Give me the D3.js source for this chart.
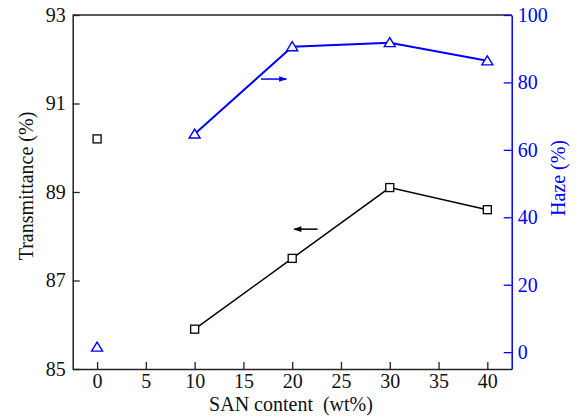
<!DOCTYPE html>
<html>
<head>
<meta charset="utf-8">
<script src="https://cdn.jsdelivr.net/npm/d3@7"></script>
<style>
  body { margin: 0; background: #fff; }
  svg text { font-family: "Liberation Serif", "DejaVu Serif", serif; }
</style>
</head>
<body>
<script>
// data
var sanContent = [0, 10, 20, 30, 40];
var transmittance = [90.2, 85.9, 87.5, 89.1, 88.6];
var haze = [1.5, 64.7, 90.6, 91.8, 86.4];
var xTicks = [0, 5, 10, 15, 20, 25, 30, 35, 40];
var tTicks = [85, 87, 89, 91, 93];
var hTicks = [0, 20, 40, 60, 80, 100];
// arrows that say which axis belongs to which curve: [x0, x1, y]
var hazeArrow = [16.8, 19.4, 81];
var transArrow = [22.6, 20.2, 88.16];

var w = 578, h = 420;
var pL = 72.7, pR = 511.7, pT = 15, pB = 369;
var blue = "#0000ff";
var fs = 20;
var serif = "'Liberation Serif', serif";

var svg = d3.select("body").append("svg")
    .attr("width", w)
    .attr("height", h);

var defs = svg.append("defs");
function marker(id, col) {
    defs.append("marker")
        .attr("id", id)
        .attr("viewBox", "0 0 10 10")
        .attr("refX", 9).attr("refY", 5)
        .attr("markerWidth", 10).attr("markerHeight", 8)
        .attr("markerUnits", "userSpaceOnUse")
        .attr("orient", "auto")
        .append("path")
        .attr("d", "M0,1.5L10,5L0,8.5Z")
        .attr("fill", col);
}
marker("ab", blue);
marker("ak", "#000");

var x = d3.scaleLinear().domain([-2.5, 42.5]).range([pL, pR]);
var yT = d3.scaleLinear().domain([85, 93]).range([pB, pT]);
var yH = d3.scaleLinear().domain([-5, 100]).range([pB, pT]);

// box top line
svg.append("line")
    .attr("x1", pL).attr("x2", pR)
    .attr("y1", pT).attr("y2", pT)
    .attr("stroke", "#222").attr("stroke-width", 1.5);

var gx = svg.append("g")
    .attr("transform", "translate(0," + pB + ")")
    .call(d3.axisBottom(x).tickValues(xTicks).tickSizeInner(-7).tickSizeOuter(0).tickPadding(5));

var gl = svg.append("g")
    .attr("transform", "translate(" + pL + ",0)")
    .call(d3.axisLeft(yT).tickValues(tTicks).tickSizeInner(-7).tickSizeOuter(0).tickPadding(7));

var gr = svg.append("g")
    .attr("transform", "translate(" + pR + ",0)")
    .call(d3.axisRight(yH).tickValues(hTicks).tickSizeInner(-8).tickSizeOuter(0).tickPadding(6));

[gx, gl, gr].forEach(function(g) {
    g.attr("font-family", serif).attr("font-size", fs);
});
[gx, gl].forEach(function(g) {
    g.select(".domain").attr("stroke", "#222").attr("stroke-width", 1.5);
    g.selectAll(".tick line").attr("stroke", "#222").attr("stroke-width", 1.3);
    g.selectAll("text").attr("fill", "#111");
});
gr.select(".domain").attr("stroke", blue).attr("stroke-width", 1.5);
gr.selectAll(".tick line").attr("stroke", blue).attr("stroke-width", 1.3);
gr.selectAll("text").attr("fill", blue);

// axis titles
svg.append("text")
    .attr("transform", "translate(33," + ((pT + pB) / 2 - 6) + ") rotate(-90)")
    .attr("text-anchor", "middle")
    .attr("font-family", serif)
    .attr("font-size", fs)
    .attr("fill", "#111")
    .text("Transmittance (%)");

svg.append("text")
    .attr("transform", "translate(565,178) rotate(-90)")
    .attr("text-anchor", "middle")
    .attr("font-family", serif)
    .attr("font-size", fs)
    .attr("fill", blue)
    .text("Haze (%)");

svg.append("text")
    .attr("x", 291).attr("y", 411)
    .attr("text-anchor", "middle")
    .attr("font-family", serif)
    .attr("font-size", fs)
    .attr("fill", "#111")
    .attr("xml:space", "preserve")
    .text("SAN content  (wt%)");

// series lines (the 0 wt% point stands alone)
var tPts = sanContent.map(function(d, i) { return [d, transmittance[i]]; });
var hPts = sanContent.map(function(d, i) { return [d, haze[i]]; });

svg.append("path")
    .datum(tPts.slice(1))
    .attr("fill", "none")
    .attr("stroke", "#000")
    .attr("stroke-width", 1.5)
    .attr("d", d3.line().x(function(d) { return x(d[0]); }).y(function(d) { return yT(d[1]); }));

svg.append("path")
    .datum(hPts.slice(1))
    .attr("fill", "none")
    .attr("stroke", blue)
    .attr("stroke-width", 2)
    .attr("d", d3.line().x(function(d) { return x(d[0]); }).y(function(d) { return yH(d[1]); }));

// markers
svg.selectAll("rect.sq")
    .data(tPts)
    .enter()
    .append("rect")
    .attr("class", "sq")
    .attr("x", function(d) { return x(d[0]) - 4; })
    .attr("y", function(d) { return yT(d[1]) - 4; })
    .attr("width", 8).attr("height", 8)
    .attr("fill", "#fff")
    .attr("stroke", "#000")
    .attr("stroke-width", 1.3);

svg.selectAll("path.tri")
    .data(hPts)
    .enter()
    .append("path")
    .attr("class", "tri")
    .attr("transform", function(d) { return "translate(" + x(d[0]) + "," + yH(d[1]) + ")"; })
    .attr("d", "M0,-5L5.5,4L-5.5,4Z")
    .attr("fill", "#fff")
    .attr("stroke", blue)
    .attr("stroke-width", 1.4);

// arrows
svg.append("line")
    .attr("x1", x(hazeArrow[0])).attr("x2", x(hazeArrow[1]))
    .attr("y1", yH(hazeArrow[2])).attr("y2", yH(hazeArrow[2]))
    .attr("stroke", blue).attr("stroke-width", 1.5)
    .attr("marker-end", "url(#ab)");

svg.append("line")
    .attr("x1", x(transArrow[0])).attr("x2", x(transArrow[1]))
    .attr("y1", yT(transArrow[2])).attr("y2", yT(transArrow[2]))
    .attr("stroke", "#000").attr("stroke-width", 1.5)
    .attr("marker-end", "url(#ak)");
</script>
</body>
</html>
